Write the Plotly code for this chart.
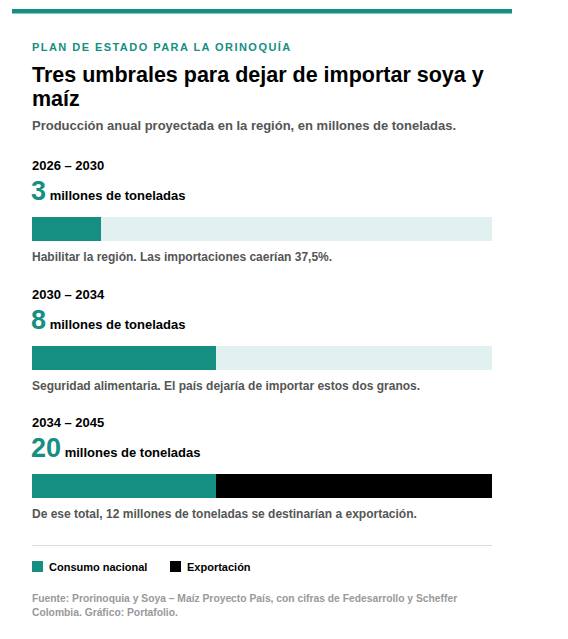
import plotly.graph_objects as go

# datos (millones de toneladas)
periodos = ["2026 – 2030", "2030 – 2034", "2034 – 2045"]
produccion_total = [3, 8, 20]
consumo_nacional = [3, 8, 8]
exportacion = [0, 0, 12]
meta_maxima = 20
notas = [
    "Habilitar la región. Las importaciones caerían 37,5%.",
    "Seguridad alimentaria. El país dejaría de importar estos dos granos.",
    "De ese total, 12 millones de toneladas se destinarían a exportación.",
]
series_leyenda = ["Consumo nacional", "Exportación"]

TEAL = "#148f82"
TEAL_CLARO = "#e1f1ef"
NEGRO = "#000000"
GRIS = "#555555"
GRIS_CLARO = "#999999"
FONT = "Liberation Sans"

# la página deja 8 px de margen alrededor del gráfico
W, H = 560, 631
OFF = 8


def px_x(x):
    return (x - OFF) / W


def px_y(y):
    return 1 - (y - OFF) / H


fig = go.Figure()

fig.add_trace(go.Bar(
    y=periodos, x=[meta_maxima] * len(periodos), orientation="h",
    marker=dict(color=TEAL_CLARO, line_width=0), width=0.187,
    showlegend=False, hoverinfo="skip",
))
fig.add_trace(go.Bar(
    y=periodos, x=consumo_nacional, orientation="h", name=series_leyenda[0],
    marker=dict(color=TEAL, line_width=0), width=0.187, showlegend=False,
))
fig.add_trace(go.Bar(
    y=periodos, x=exportacion, base=consumo_nacional, orientation="h",
    name=series_leyenda[1], marker=dict(color=NEGRO, line_width=0),
    width=0.187, showlegend=False,
))

fig.update_layout(
    width=W, height=H,
    margin=dict(l=0, r=0, t=0, b=0),
    paper_bgcolor="white", plot_bgcolor="white",
    barmode="overlay", bargap=0,
    font=dict(family=FONT, color=NEGRO),
    xaxis=dict(domain=[px_x(32), px_x(492)], range=[0, meta_maxima],
               visible=False, fixedrange=True),
    yaxis=dict(domain=[px_y(550.25), px_y(164.75)], range=[2.5, -0.5],
               type="category", categoryarray=periodos, visible=False,
               fixedrange=True),
)

annotations = []


def texto(x, y, t, size, color=NEGRO, yanchor="middle"):
    annotations.append(dict(
        x=px_x(x - 2), y=px_y(y), xref="paper", yref="paper", text=t,
        showarrow=False, xanchor="left", yanchor=yanchor, align="left",
        font=dict(family=FONT, size=size, color=color),
    ))


texto(32, 47, "<b><span style='letter-spacing:1.45px'>PLAN DE ESTADO PARA LA ORINOQUÍA</span></b>", 11, TEAL)
texto(32, 74.5, "<b>Tres umbrales para dejar de importar soya y</b>", 21.5)
texto(32, 98.5, "<b>maíz</b>", 21.5)
texto(32, 125.5, "<b>Producción anual proyectada en la región, en millones de toneladas.</b>", 13, GRIS)

for i, periodo in enumerate(periodos):
    annotations.append(dict(
        x=px_x(30), y=periodo, xref="paper", yref="y", yshift=63.5,
        text=f"<b>{periodo}</b>", showarrow=False, xanchor="left",
        yanchor="middle", font=dict(family=FONT, size=13, color=NEGRO),
    ))
    annotations.append(dict(
        x=px_x(29), y=periodo, xref="paper", yref="y", yshift=21,
        text=(f"<b><span style='font-size:27px;color:{TEAL}'>{produccion_total[i]}</span>"
              f" <span style='font-size:13px'>millones de toneladas</span></b>"),
        showarrow=False, xanchor="left", yanchor="bottom",
        font=dict(family=FONT, size=13, color=NEGRO),
    ))
    annotations.append(dict(
        x=px_x(30), y=periodo, xref="paper", yref="y", yshift=-28,
        text=f"<b>{notas[i]}</b>", showarrow=False, xanchor="left",
        yanchor="middle", font=dict(family=FONT, size=12, color=GRIS),
    ))

# leyenda
texto(49, 566.5, f"<b>{series_leyenda[0]}</b>", 11)
texto(187, 566.5, f"<b>{series_leyenda[1]}</b>", 11)

texto(32, 598, "<b>Fuente: Prorinoquia y Soya – Maíz Proyecto País, con cifras de Fedesarrollo y Scheffer</b>", 10.3, GRIS_CLARO)
texto(32, 612, "<b>Colombia. Gráfico: Portafolio.</b>", 10.3, GRIS_CLARO)

fig.update_layout(annotations=annotations)

shapes = [
    dict(type="rect", xref="paper", yref="paper", x0=px_x(12), x1=px_x(512),
         y0=px_y(13.5), y1=px_y(9), fillcolor=TEAL, line_width=0),
    dict(type="line", xref="paper", yref="paper", x0=px_x(32), x1=px_x(492),
         y0=px_y(545.5), y1=px_y(545.5), line=dict(color="#dddddd", width=1)),
    dict(type="rect", xref="paper", yref="paper", x0=px_x(32), x1=px_x(43),
         y0=px_y(572), y1=px_y(561), fillcolor=TEAL, line_width=0),
    dict(type="rect", xref="paper", yref="paper", x0=px_x(170), x1=px_x(181),
         y0=px_y(572), y1=px_y(561), fillcolor=NEGRO, line_width=0),
]
fig.update_layout(shapes=shapes)

fig.write_html("out.html")
